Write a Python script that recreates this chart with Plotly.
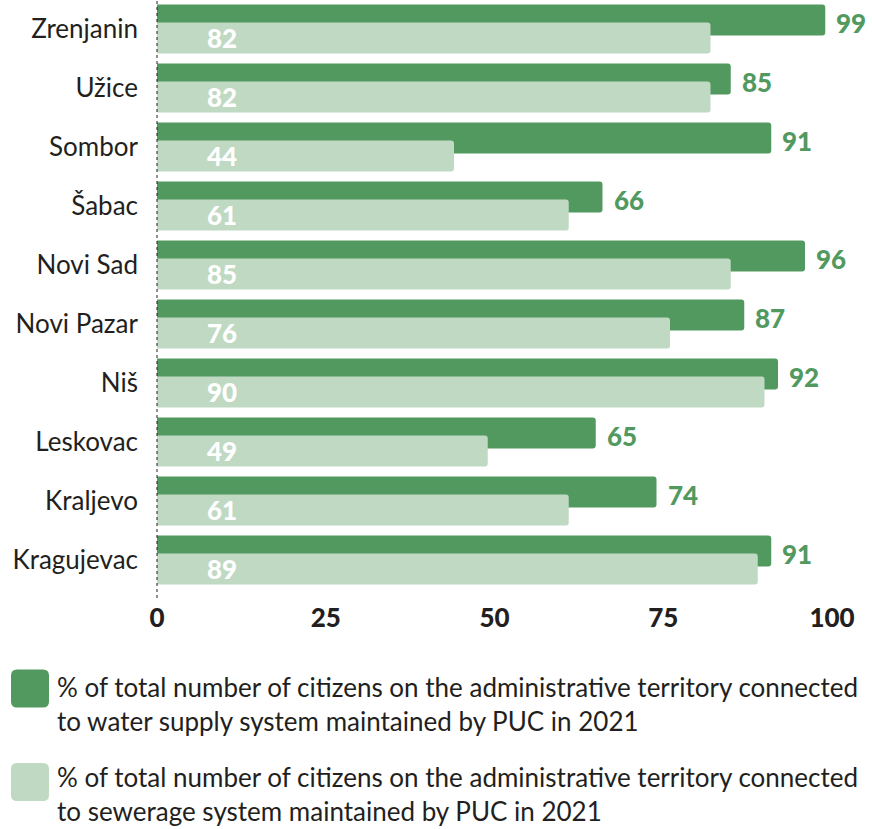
import plotly.graph_objects as go

# Cities, top to bottom
cities = ["Zrenjanin", "Užice", "Sombor", "Šabac", "Novi Sad",
          "Novi Pazar", "Niš", "Leskovac", "Kraljevo", "Kragujevac"]

# % of citizens connected to the water supply system (PUC, 2021)
water_supply = [99, 85, 91, 66, 96, 87, 92, 65, 74, 91]
# % of citizens connected to the sewerage system (PUC, 2021)
sewerage = [82, 82, 44, 61, 85, 76, 90, 49, 61, 89]

x_ticks = [0, 25, 50, 75, 100]

water_name = ("% of total number of citizens on the administrative territory connected"
              "<br>to water supply system maintained by PUC in 2021")
sewer_name = ("% of total number of citizens on the administrative territory connected"
              "<br>to sewerage system maintained by PUC in 2021")

DARK = "#52995f"
LIGHT = "#c0d9c3"
INK = "#231f20"
FONT = "Lato"

W, H = 872, 829
ML, MR, MT, MB = 157, 0, 0, 231
PW, PH = W - ML - MR, H - MT - MB
PX_PER_UNIT = 6.75      # horizontal pixels per percentage point
ROW = 59.0              # vertical pixels per city row

BAR_W = 31 / ROW
STEP = 18 / ROW
DARK_OFF = -(BAR_W + STEP) / 2
LIGHT_OFF = DARK_OFF + STEP

fig = go.Figure()
fig.add_trace(go.Bar(
    y=cities, x=water_supply, orientation="h", name=water_name,
    marker=dict(color=DARK, line=dict(width=0)),
    width=BAR_W, offset=DARK_OFF, showlegend=False,
))
fig.add_trace(go.Bar(
    y=cities, x=sewerage, orientation="h", name=sewer_name,
    marker=dict(color=LIGHT, line=dict(width=0)),
    width=BAR_W, offset=LIGHT_OFF, showlegend=False,
))

annotations = []
# value labels: water supply outside the bar end, sewerage inside near the base
for city, w, s in zip(cities, water_supply, sewerage):
    annotations.append(dict(
        x=w, y=city, xref="x", yref="y", text=str(w),
        xanchor="left", yanchor="middle", xshift=9, yshift=6,
        showarrow=False, font=dict(family=FONT, size=26, color=DARK, weight=900),
    ))
    annotations.append(dict(
        x=0, y=city, xref="x", yref="y", text=str(s),
        xanchor="left", yanchor="middle", xshift=48, yshift=-9,
        showarrow=False, font=dict(family=FONT, size=26, color="white", weight=900),
    ))

# custom legend: rounded swatches with two-line descriptions
def px_to_paper_x(px):
    return (px - ML) / PW

def px_to_paper_y(py):
    return 1 - (py - MT) / PH

shapes = [dict(
    type="line", xref="paper", yref="paper", x0=0, x1=0, y0=0, y1=1,
    line=dict(color=INK, width=1, dash="dot"), layer="above",
)]

r, h = 6, 19
rounded = (f"M {-h + r},{-h} L {h - r},{-h} Q {h},{-h} {h},{-h + r} "
           f"L {h},{h - r} Q {h},{h} {h - r},{h} L {-h + r},{h} "
           f"Q {-h},{h} {-h},{h - r} L {-h},{-h + r} Q {-h},{-h} {-h + r},{-h} Z")

for color, name, cy, ty in [(DARK, water_name, 688.5, 703.5),
                            (LIGHT, sewer_name, 782, 794)]:
    shapes.append(dict(
        type="path", path=rounded, xref="paper", yref="paper",
        xsizemode="pixel", ysizemode="pixel",
        xanchor=px_to_paper_x(30), yanchor=px_to_paper_y(cy),
        fillcolor=color, line=dict(width=0),
    ))
    annotations.append(dict(
        x=px_to_paper_x(55), y=px_to_paper_y(ty), xref="paper", yref="paper",
        text=name, align="left", xanchor="left", yanchor="middle",
        showarrow=False, font=dict(family=FONT, size=26, color=INK),
    ))

fig.update_layout(
    width=W, height=H,
    margin=dict(l=ML, r=MR, t=MT, b=MB, pad=0),
    paper_bgcolor="white", plot_bgcolor="white",
    barmode="overlay", barcornerradius=3,
    font=dict(family=FONT, color=INK),
    xaxis=dict(
        range=[0, PW / PX_PER_UNIT], tickvals=x_ticks,
        ticktext=[str(t) for t in x_ticks],
        showgrid=False, zeroline=False, showline=False, ticks="",
        tickfont=dict(family=FONT, size=26, color=INK, weight=900),
        ticklabelstandoff=2,
    ),
    yaxis=dict(
        type="category", categoryorder="array", categoryarray=cities,
        range=[9 + (PH - (29 + 9 * ROW)) / ROW, -29 / ROW],
        showgrid=False, zeroline=False, showline=False, ticks="",
        tickfont=dict(family=FONT, size=26, color=INK),
        ticklabelstandoff=18,
    ),
    shapes=shapes,
    annotations=annotations,
)

fig.write_html("out.html")
